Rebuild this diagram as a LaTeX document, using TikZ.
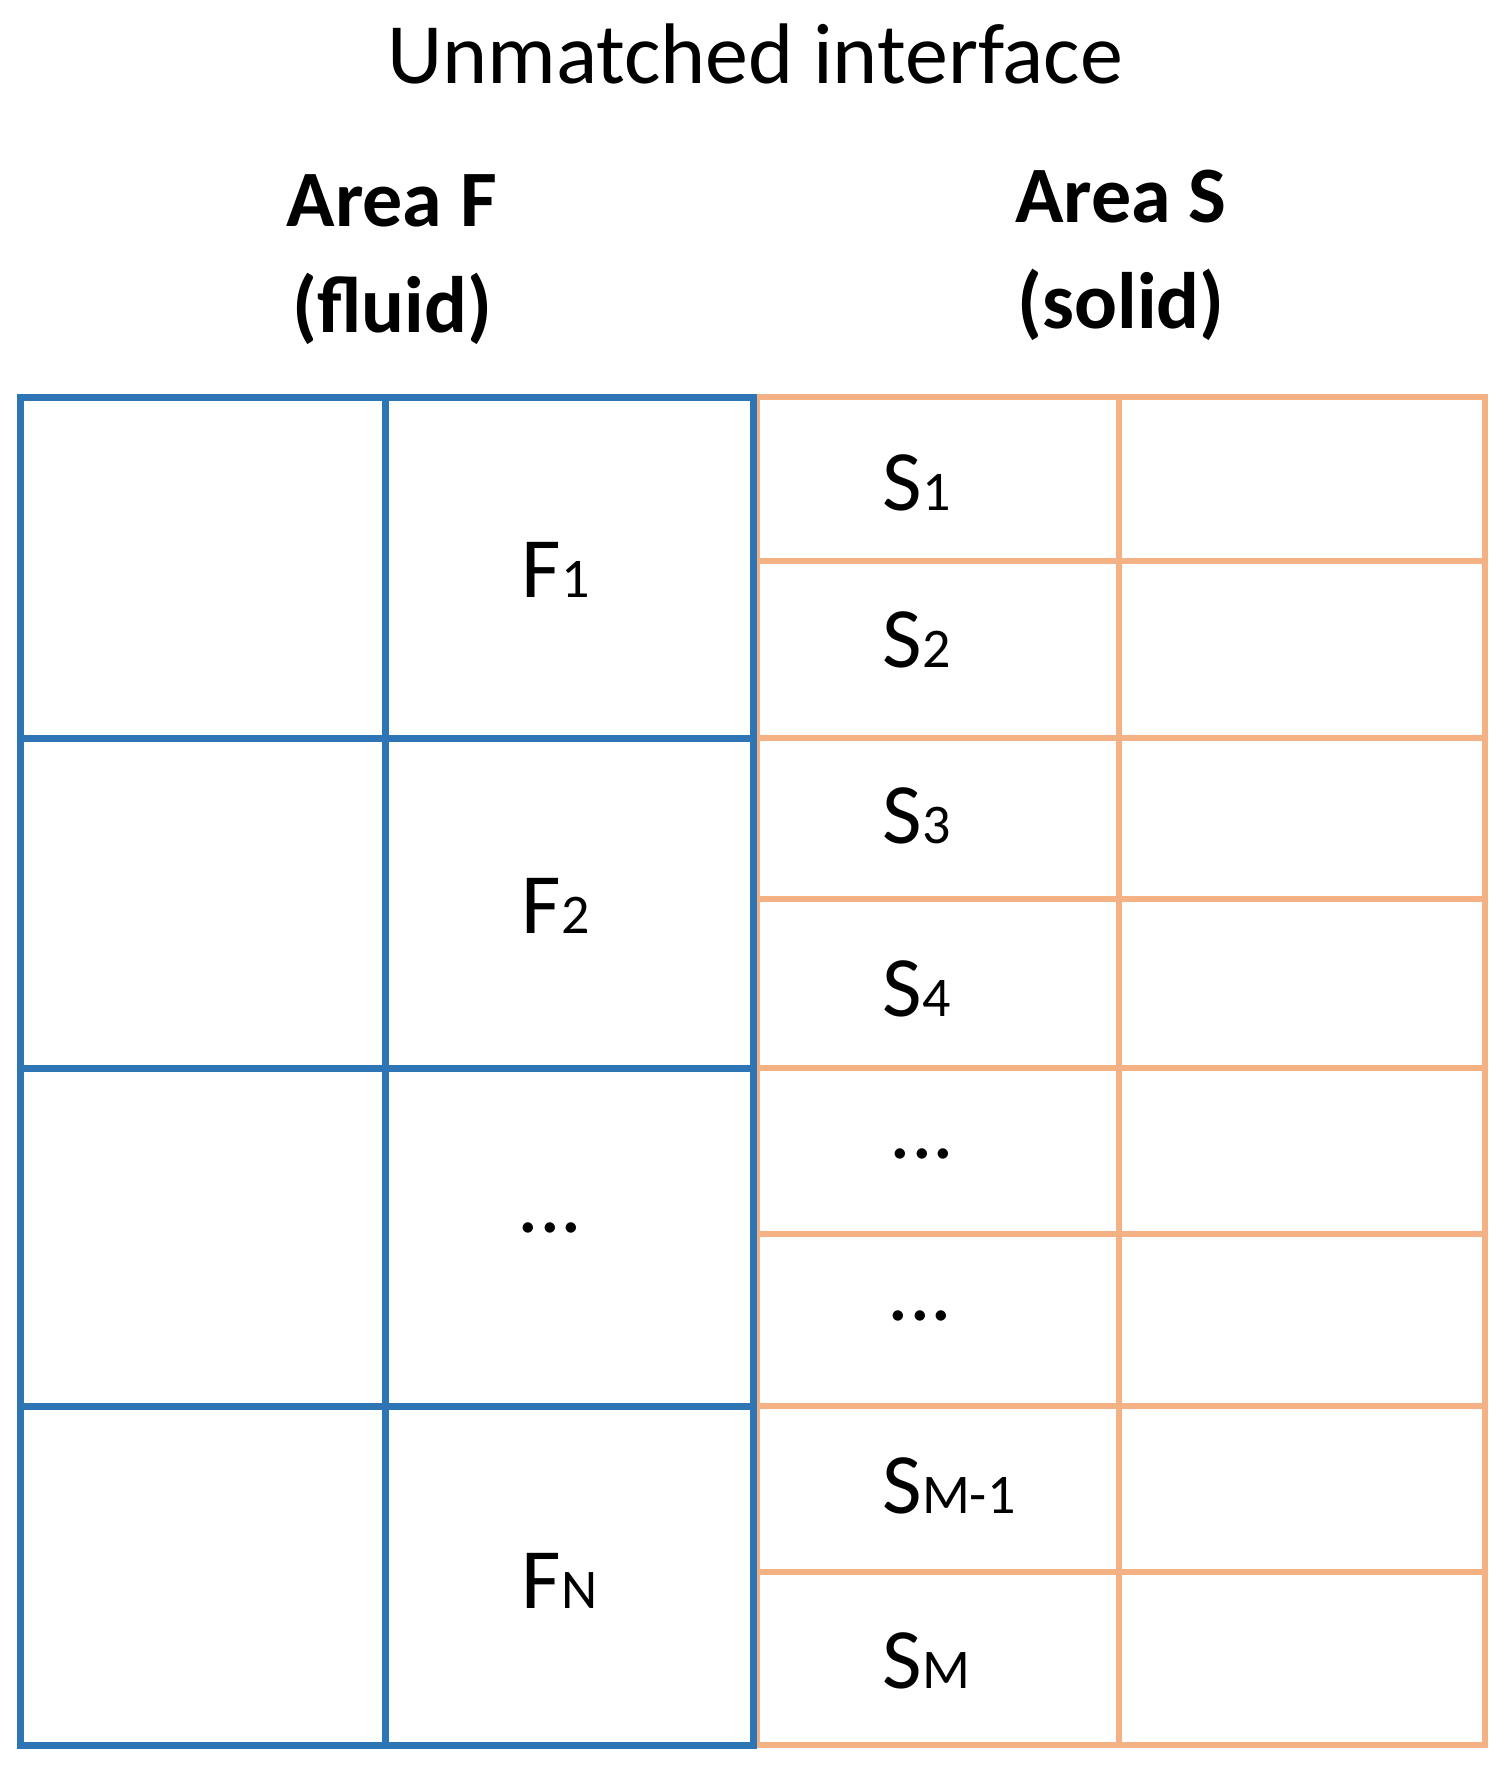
\documentclass[tikz,border=0pt]{standalone}
\usepackage{fontspec}
\setmainfont{Carlito}
\definecolor{bl}{HTML}{2E75B6}
\definecolor{or}{HTML}{F4B183}
\newcommand{\smallsub}[1]{{\fontsize{56}{60}\selectfont #1}}
\begin{document}
\begin{tikzpicture}[x=1pt,y=-1pt,
  bline/.style={draw=bl,line width=7pt},
  oline/.style={draw=or,line width=6.5pt},
  lab/.style={font=\fontsize{86}{96}\selectfont,anchor=base},
  head/.style={font=\fontsize{80}{106}\selectfont\bfseries,align=center}]
\useasboundingbox (0,0) rectangle (1510,1770);
\node[font=\fontsize{86}{96}\selectfont] (title) at (755,54) {Unmatched interface};
\node[head] (af) at (392,260) {Area F\\(fluid)};
\node[head] (as) at (1121,255) {Area S\\(solid)};
% orange grid
\draw[oline] (757,397) rectangle (1485,1745);
\draw[oline] (1119,397) -- (1119,1745);
\foreach \y in {561,738,899,1068,1234,1406,1572} \draw[oline] (757,\y) -- (1485,\y);
% blue grid
\draw[bline] (20,397) rectangle (753,1745);
\draw[bline] (385,397) -- (385,1745);
\foreach \y in {738,1068,1406} \draw[bline] (20,\y) -- (753,\y);
% labels
\node[lab,anchor=base west] (f1) at (518,597) {F\smallsub{1}};
\node[lab,anchor=base west] (f2) at (518,933) {F\smallsub{2}};
\node[lab] (fd) at (550,1232) {...};
\node[lab,anchor=base west] (fn) at (518,1608) {F\smallsub{N}};
\node[lab,anchor=base west] (s1) at (879,510) {S\smallsub{1}};
\node[lab,anchor=base west] (s2) at (879,667) {S\smallsub{2}};
\node[lab,anchor=base west] (s3) at (879,843) {S\smallsub{3}};
\node[lab,anchor=base west] (s4) at (879,1016) {S\smallsub{4}};
\node[lab] (sd1) at (922,1158) {...};
\node[lab] (sd2) at (920,1320) {...};
\node[lab,anchor=base west] (sm1) at (879,1513) {S\smallsub{M-1}};
\node[lab,anchor=base west] (sm) at (879,1688) {S\smallsub{M}};
\end{tikzpicture}
\end{document}
